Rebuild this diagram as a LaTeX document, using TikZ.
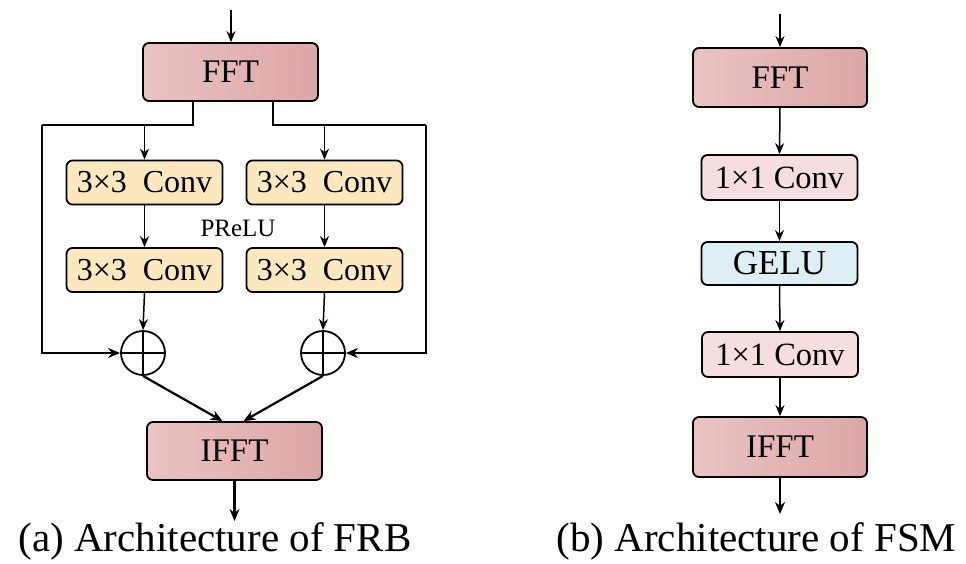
\documentclass[tikz,border=0pt]{standalone}
\usepackage{fontspec}
\setmainfont{Liberation Serif}
\usetikzlibrary{arrows.meta,calc}
\definecolor{fftL}{HTML}{EAC3C3}
\definecolor{fftR}{HTML}{DCA6A6}
\definecolor{convY}{HTML}{FBE8BE}
\definecolor{convP}{HTML}{F6DEDE}
\definecolor{geluB}{HTML}{DDEFF4}
\tikzset{
  blk/.style={draw=black, line width=1.8pt, rounded corners=6pt, inner sep=0pt, align=center},
  fftbox/.style={blk, left color=fftL, right color=fftR, minimum width=175pt, minimum height=58pt, font=\fontsize{33}{33}\selectfont},
  convbox/.style={blk, fill=convY, minimum width=156pt, minimum height=44pt, font=\fontsize{32}{32}\selectfont},
  pconvbox/.style={blk, fill=convP, minimum width=156pt, minimum height=45pt, font=\fontsize{32.5}{32.5}\selectfont},
  gelubox/.style={blk, fill=geluB, minimum width=156pt, minimum height=43pt, font=\fontsize{35}{35}\selectfont},
  plusnode/.style={draw=black, line width=1.8pt, circle, minimum size=44pt, inner sep=0pt},
  wire/.style={line width=2.2pt},
  arr/.style={wire, -{Stealth[length=12pt,width=10pt]}},
  thinarr/.style={line width=1.5pt, -{Stealth[length=11pt,width=9pt]}},
  captext/.style={font=\fontsize{41}{41}\selectfont}
}
\begin{document}
\begin{tikzpicture}[x=1pt,y=-1pt]
\useasboundingbox (0,0) rectangle (966,563);

% ---------- (a) FRB ----------
\node[fftbox] (fftA) at (230.5,72) {FFT};
\node[convbox] (cL1) at (144.5,182.5) {3×3\ \ Conv};
\node[convbox] (cR1) at (324.5,182.5) {3×3\ \ Conv};
\node[convbox] (cL2) at (144.5,270) {3×3\ \ Conv};
\node[convbox] (cR2) at (324.5,270) {3×3\ \ Conv};
\node[font=\fontsize{25}{25}\selectfont] (prelu) at (238,228) {PReLU};
\node[plusnode] (pL) at (143,353) {};
\node[plusnode] (pR) at (323,353) {};
\draw[line width=1.8pt] (pL.north) -- (pL.south) (pL.west) -- (pL.east);
\draw[line width=1.8pt] (pR.north) -- (pR.south) (pR.west) -- (pR.east);
\node[fftbox] (ifftA) at (234.5,451) {IFFT};

\coordinate (inA) at (231,10);
\coordinate (outA) at (234.5,521);
\coordinate (jL) at (193,125);
\coordinate (jR) at (273,125);
\coordinate (sL) at (42,125);
\coordinate (sR) at (426,125);

\draw[thinarr] (inA) -- (inA |- fftA.north);
\draw[wire] (fftA.south -| jL) -- (jL) -- (sL);
\draw[wire] (fftA.south -| jR) -- (jR) -- (sR);
\draw[arr] (sL) |- (pL.west);
\draw[arr] (sR) |- (pR.east);
\draw[thinarr] (cL1.north |- jL) -- (cL1.north);
\draw[thinarr] (cR1.north |- jR) -- (cR1.north);
\draw[thinarr] (cL1.south) -- (cL2.north);
\draw[thinarr] (cR1.south) -- (cR2.north);
\draw[thinarr] (cL2.south) -- (pL.north);
\draw[thinarr] (cR2.south) -- (pR.north);
\draw[arr] (pL.south) -- ($(ifftA.north)+(-12,0)$);
\draw[arr] (pR.south) -- ($(ifftA.north)+(9,0)$);
\draw[arr] (ifftA.south) -- (outA);
\node[captext] (capA) at (215,541) {(a) Architecture of FRB};

% ---------- (b) FSM ----------
\node[fftbox, minimum width=174pt, minimum height=59pt] (fftB) at (780,77.5) {FFT};
\node[pconvbox] (p1) at (779.5,177.5) {1×1 Conv};
\node[gelubox] (gelu) at (779.5,263.5) {GELU};
\node[pconvbox] (p2) at (780,354.5) {1×1 Conv};
\node[fftbox, minimum width=174pt, minimum height=60pt] (ifftB) at (780,447) {IFFT};

\coordinate (inB) at (780,14);
\coordinate (outB) at (780,514);
\draw[thinarr] (inB) -- (fftB.north);
\draw[thinarr] (fftB.south) -- (p1.north);
\draw[thinarr] (p1.south) -- (gelu.north);
\draw[thinarr] (gelu.south) -- (p2.north);
\draw[thinarr] (p2.south) -- (ifftB.north);
\draw[arr] (ifftB.south) -- (outB);
\node[captext] (capB) at (756.5,541) {(b) Architecture of FSM};
\end{tikzpicture}
\end{document}
